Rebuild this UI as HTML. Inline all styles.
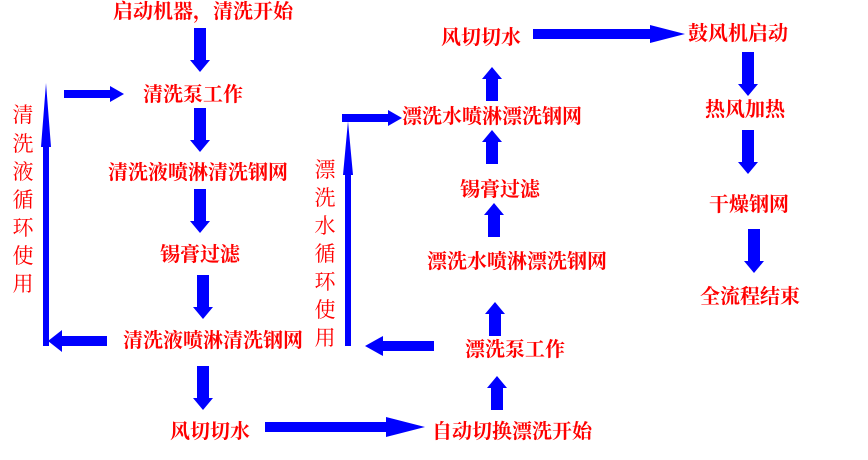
<!DOCTYPE html>
<html><head><meta charset="utf-8"><style>
html,body{margin:0;padding:0;background:#fff;width:868px;height:460px;overflow:hidden}
svg{display:block}
.t{font-family:"Liberation Serif","Noto Serif CJK SC",serif;font-weight:bold;font-size:20px;fill:#ff0000;text-anchor:middle;dominant-baseline:central}
.v{font-family:"Liberation Serif","Noto Serif CJK SC",serif;font-size:21px;fill:#ff0000;text-anchor:middle;dominant-baseline:central}
</style></head><body>
<svg width="868" height="460" viewBox="0 0 868 460">
<defs>
<g id="d"><polygon points="-6,0 6,0 6,32 10,32 0,44 -10,32 -6,32" fill="#0000ff"/></g>
<g id="u"><polygon points="-6,34 6,34 6,12 10,12 0,0 -10,12 -6,12" fill="#0000ff"/></g>
</defs>
<text class="t" x="203" y="12">启动机器，清洗开始</text>
<text class="t" x="193" y="95">清洗泵工作</text>
<text class="t" x="198" y="173">清洗液喷淋清洗钢网</text>
<text class="t" x="200" y="255">锡膏过滤</text>
<text class="t" x="213" y="341">清洗液喷淋清洗钢网</text>
<text class="t" x="210" y="432">风切切水</text>
<use href="#d" x="200" y="28"/>
<use href="#d" x="200" y="108"/>
<use href="#d" x="200" y="189"/>
<use href="#d" x="203" y="275"/>
<use href="#d" x="203" y="366"/>
<polygon points="64,90 110,90 110,86 124,94 110,102 110,98 64,98" fill="#0000ff"/>
<polygon points="43,346 43,147 41,147 46,83 51,147 49,147 49,346" fill="#0000ff"/>
<polygon points="107,336 62,336 62,330 48,341 62,352 62,346 107,346" fill="#0000ff"/>
<text class="v" x="23" y="115">清</text><text class="v" x="23" y="144">洗</text><text class="v" x="23" y="172">液</text><text class="v" x="23" y="200">循</text><text class="v" x="23" y="228">环</text><text class="v" x="23" y="256">使</text><text class="v" x="23" y="284">用</text>

<text class="t" x="481" y="38">风切切水</text>
<text class="t" x="492" y="117">漂洗水喷淋漂洗钢网</text>
<text class="t" x="500" y="190">锡膏过滤</text>
<text class="t" x="517" y="262">漂洗水喷淋漂洗钢网</text>
<text class="t" x="515" y="350">漂洗泵工作</text>
<text class="t" x="512" y="432">自动切换漂洗开始</text>
<use href="#u" x="492" y="67"/>
<use href="#u" x="492" y="130"/>
<use href="#u" x="494" y="203"/>
<use href="#u" x="495" y="302"/>
<use href="#u" x="497" y="376"/>
<polygon points="533,29 650,29 650,25 685,34 650,43 650,39 533,39" fill="#0000ff"/>
<polygon points="265,422 386,422 386,417 425,427 386,437 386,432 265,432" fill="#0000ff"/>
<polygon points="434,341 383,341 383,336 365,346 383,356 383,351 434,351" fill="#0000ff"/>
<polygon points="345,346 345,175 343,175 348,121 353,175 351,175 351,346" fill="#0000ff"/>
<polygon points="342,114 388,114 388,110 402,118 388,126 388,122 342,122" fill="#0000ff"/>
<text class="v" x="325" y="170">漂</text><text class="v" x="325" y="198">洗</text><text class="v" x="325" y="226">水</text><text class="v" x="325" y="254">循</text><text class="v" x="325" y="282">环</text><text class="v" x="325" y="310">使</text><text class="v" x="325" y="338">用</text>

<text class="t" x="738" y="34">鼓风机启动</text>
<text class="t" x="745" y="110">热风加热</text>
<text class="t" x="749" y="205">干燥钢网</text>
<text class="t" x="750" y="297">全流程结束</text>
<use href="#d" x="748" y="52"/>
<use href="#d" x="748" y="130"/>
<use href="#d" x="754" y="229"/>
</svg>
</body></html>
